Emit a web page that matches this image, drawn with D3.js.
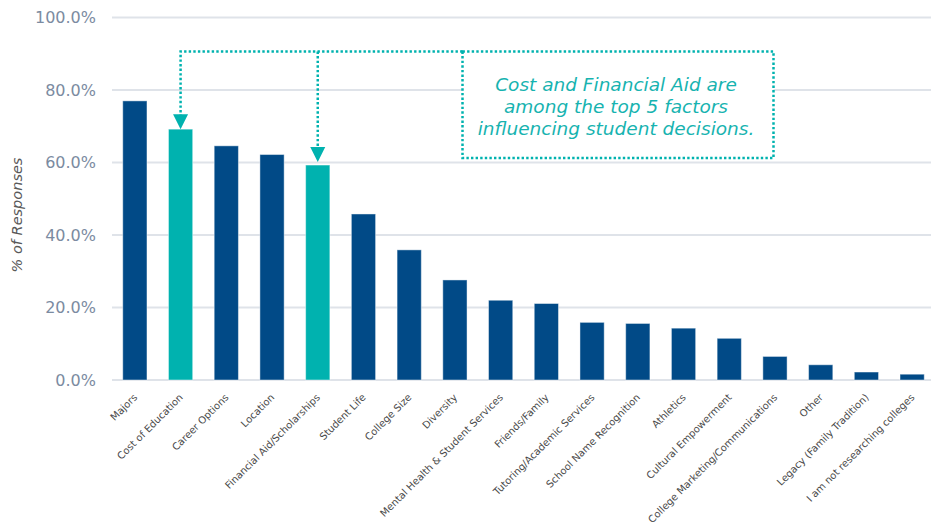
<!DOCTYPE html>
<html>
<head>
<meta charset="utf-8">
<script src="https://cdn.jsdelivr.net/npm/d3@7/dist/d3.min.js"></script>
<style>
  html, body { margin: 0; padding: 0; background: #fff; }
  svg { display: block; font-family: "DejaVu Sans", Verdana, sans-serif; }
</style>
</head>
<body>
<svg id="chart" width="931" height="529"></svg>
<script>
// Survey: factors influencing college decisions (% of responses)
const categories = [
  "Majors", "Cost of Education", "Career Options", "Location",
  "Financial Aid/Scholarships", "Student Life", "College Size", "Diversity",
  "Mental Health & Student Services", "Friends/Family",
  "Tutoring/Academic Services", "School Name Recognition", "Athletics",
  "Cultural Empowerment", "College Marketing/Communications", "Other",
  "Legacy (Family Tradition)", "I am not researching colleges"
];
const values = [77.0, 69.2, 64.6, 62.2, 59.3, 45.8, 35.9, 27.6, 22.0, 21.1,
                15.9, 15.6, 14.3, 11.5, 6.5, 4.2, 2.2, 1.6];
const highlighted = ["Cost of Education", "Financial Aid/Scholarships"];
const yTicks = [0, 20, 40, 60, 80, 100];
const noteLines = [
  "Cost and Financial Aid are",
  "among the top 5 factors",
  "influencing student decisions."
];

const navy = "#014a87";
const teal = "#00b2af";
const svg = d3.select("#chart");

const x = d3.scaleBand()
  .domain(categories)
  .range([112, 935])
  .paddingInner(0.47)
  .paddingOuter(0.235);

const y = d3.scaleLinear().domain([0, 100]).range([380, 17.5]);

// horizontal gridlines
svg.append("g")
  .selectAll("line")
  .data(yTicks)
  .join("line")
  .attr("x1", 112).attr("x2", 931)
  .attr("y1", d => y(d)).attr("y2", d => y(d))
  .attr("stroke", "#dfe3e9")
  .attr("stroke-width", 2);

// y axis labels
const yAxis = svg.append("g")
  .attr("transform", "translate(112,0)")
  .call(d3.axisLeft(y).tickValues(yTicks).tickFormat(d => d.toFixed(1) + "%").tickSize(0).tickPadding(16));
yAxis.select(".domain").remove();
yAxis.selectAll("text")
  .attr("font-family", "DejaVu Sans, Verdana, sans-serif")
  .attr("font-size", 16)
  .attr("fill", "#7b8ba1");

svg.append("text")
  .attr("transform", "translate(22,215) rotate(-90)")
  .attr("text-anchor", "middle")
  .attr("font-size", 14.5)
  .attr("font-style", "italic")
  .attr("fill", "#595959")
  .text("% of Responses");

// bars
svg.append("g")
  .selectAll("rect")
  .data(categories.map((c, i) => ({ c, v: values[i] })))
  .join("rect")
  .attr("x", d => x(d.c))
  .attr("width", x.bandwidth())
  .attr("y", d => y(d.v))
  .attr("height", d => y(0) - y(d.v))
  .attr("fill", d => highlighted.includes(d.c) ? teal : navy)
  .attr("stroke", "rgba(255,255,255,0.45)")
  .attr("stroke-width", 1);

// x axis category labels
const xAxis = svg.append("g")
  .attr("transform", `translate(0,${y(0)})`)
  .call(d3.axisBottom(x).tickSize(0).tickPadding(0));
xAxis.select(".domain").remove();
xAxis.selectAll("text")
  .attr("font-family", "DejaVu Sans, Verdana, sans-serif")
  .attr("font-size", 10)
  .attr("fill", "#4a4a4a")
  .attr("text-anchor", "end")
  .attr("dy", null)
  .attr("y", 0)
  .attr("transform", "translate(3,18) rotate(-45)");

// annotation: dotted callout box and arrows
const boxL = 462.5, boxR = 773.5, boxT = 51.5, boxB = 158;
const dotted = { stroke: teal, "stroke-width": 2.5, "stroke-dasharray": "2.4 2.2" };
const applyStyle = (sel, s) => { Object.entries(s).forEach(([k, v]) => sel.attr(k, v)); return sel; };

const note = svg.append("g");
applyStyle(note.append("rect")
  .attr("x", boxL).attr("y", boxT)
  .attr("width", boxR - boxL).attr("height", boxB - boxT)
  .attr("fill", "#fff"), dotted);

const cx1 = x("Cost of Education") + x.bandwidth() / 2;
const cx2 = x("Financial Aid/Scholarships") + x.bandwidth() / 2;
const tip1 = y(values[categories.indexOf("Cost of Education")]);
const tip2 = y(values[categories.indexOf("Financial Aid/Scholarships")]) - 3;

applyStyle(note.append("path")
  .attr("fill", "none")
  .attr("d", `M${boxL},${boxT} H${cx1} V${tip1 - 14}`), dotted);
applyStyle(note.append("path")
  .attr("fill", "none")
  .attr("d", `M${cx2},${boxT} V${tip2 - 14}`), dotted);

[[cx1, tip1], [cx2, tip2]].forEach(([cx, ty]) => {
  note.append("path")
    .attr("d", `M${cx - 7.5},${ty - 15} L${cx + 7.5},${ty - 15} L${cx},${ty} Z`)
    .attr("fill", teal);
});

note.append("g")
  .selectAll("text")
  .data(noteLines)
  .join("text")
  .attr("x", (boxL + boxR) / 2 - 2)
  .attr("y", (d, i) => 91 + i * 21.8)
  .attr("text-anchor", "middle")
  .attr("font-size", 18.5)
  .attr("font-style", "italic")
  .attr("fill", "#17b3b0")
  .text(d => d);
</script>
</body>
</html>
